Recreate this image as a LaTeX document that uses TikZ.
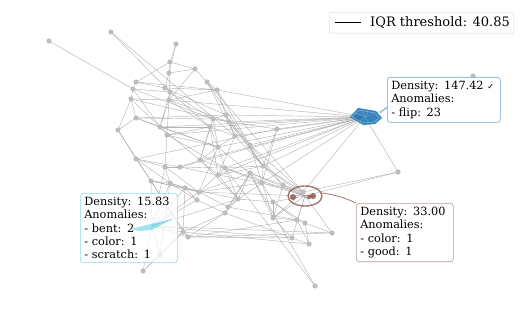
\documentclass[tikz,border=0pt]{standalone}
\usepackage{fontspec}
\setmainfont{DejaVu Serif}
\newfontfamily\symfont{DejaVu Sans}
\definecolor{tabblue}{HTML}{1F77B4}
\definecolor{lightblue}{HTML}{6FA8D6}
\definecolor{tabbrown}{HTML}{8C564B}
\definecolor{lightbrown}{HTML}{B59A93}
\definecolor{tabcyan}{HTML}{17BECF}
\definecolor{lightcyan}{HTML}{8EDBE4}
\definecolor{nodegray}{HTML}{BDBDBD}
\definecolor{edgegray}{HTML}{9E9E9E}
\begin{document}
\begin{tikzpicture}[x=1pt,y=-1pt,
  edge/.style={draw=edgegray,line width=0.45pt,opacity=0.75},
  gnode/.style={circle,fill=nodegray,inner sep=0pt,minimum size=5.2pt},
  lbl/.style={draw,rounded corners=3pt,fill=white,fill opacity=0.72,text opacity=1,
    inner sep=4pt,align=left,anchor=north west,font=\fontsize{11.3}{13.2}\selectfont,line width=0.6pt}]
\useasboundingbox (0,0) rectangle (524,318);
% coordinates of the graph
\foreach \i/\x/\y in {1/49/41,2/111/32,3/176/44,4/170/62,5/195/69,6/169/73,7/136/82,8/207/82,
  9/133/89,10/165/88,11/170/92,12/217/90,13/131/99,14/169/100,15/136/118,16/118/130,
  17/160/127,18/167/135,19/213/119,20/226/115,21/210/127,22/229/122,23/235/136,24/218/147,
  25/277/129,26/136/159,27/165/167,28/180/167,29/200/160,30/225/168,31/151/181,32/170/183,
  33/199/192,34/218/175,35/238/199,36/262/183,37/263/166,38/273/202,39/197/200,40/185/188,
  41/250/173,42/225/213,43/228/207,44/183/232,45/188/237,46/160/255,47/303/192,48/273/218,
  49/297/220,50/305/223,51/332/233,52/292/238,53/309/244,54/315/286,55/283/185,56/250/145,
  57/398/172,58/473/76,59/143/271}
  \coordinate (c\i) at (\x,\y);
\coordinate (cB) at (365,117);
\coordinate (cBr) at (305,196);
\coordinate (cT) at (152,226);
% edges
\foreach \a/\b in {1/9,2/11,2/23,3/4,4/6,4/5,4/7,5/6,5/8,5/14,6/10,6/11,7/9,7/10,7/12,8/12,8/37,
  9/13,9/11,9/19,10/11,10/12,11/14,11/19,11/21,12/14,13/14,13/16,13/15,14/18,14/17,14/22,
  15/17,15/20,15/19,16/26,17/18,17/21,17/24,18/21,18/30,19/20,19/22,20/22,20/23,21/23,21/24,
  22/23,22/25,23/24,23/34,24/29,24/30,25/37,26/28,26/27,26/31,26/25,27/28,27/32,28/29,28/30,
  29/30,29/34,30/34,30/36,30/37,31/32,31/33,31/35,32/33,32/40,33/34,33/41,34/35,34/36,35/36,
  35/41,35/42,36/37,36/38,36/47,37/47,38/48,38/49,39/40,39/42,40/33,41/42,41/55,42/44,43/41,
  43/35,43/33,44/45,44/31,45/52,45/51,46/44,46/32,47/55,47/48,48/49,48/52,49/50,49/53,50/51,
  50/53,52/53,54/30,55/56,56/36,57/47,16/15,3/6,12/20,24/33,18/27,19/29,21/34,13/22,10/20,
  8/23,17/29,8/47,20/37,16/31,26/32,27/33,28/34,29/35,31/45,32/39,33/36,34/37,35/38,36/48,
  37/55,40/44,42/45,46/59,59/44,24/36,18/24,15/24,9/17,13/17,11/17,22/37,23/37,25/36,14/21,
  19/24,21/29,30/35,33/39,41/48,42/52,43/49,44/53,45/49,54/41,56/47,55/48,38/50,12/56,22/56}
  \draw[edge] (c\a) -- (c\b);
\foreach \b in {25,22,20,23,24,29,37,36,30,34,21,57,58,47,12,18,28,17,14,56}
  \draw[edge] (cB) -- (c\b);
\foreach \b in {36,37,38,41,48,49,57,51,33,30,55,52}
  \draw[edge] (cBr) -- (c\b);
\foreach \b in {44,45,39,31,27,32,51,52,46,33,35,40,59}
  \draw[edge] (cT) -- (c\b);
% grey nodes
\foreach \i in {1,...,59}
  \node[gnode] (g\i) at (c\i) {};
% blue cluster
\fill[tabblue,opacity=0.9] (350,117) -- (358,108) -- (376,111) -- (382,118) -- (375,124) -- (363,125) -- cycle;
\draw[lightblue,line width=0.8pt] (352,117) -- (359,110) -- (375,113) -- (379,118) -- (374,122) -- (363,123) -- cycle;
\foreach \p in {(356,113),(362,111),(368,112),(374,114),(360,121),(368,122)}
  \draw[white,opacity=0.35,line width=0.3pt] (365,117) -- \p;
% brown cluster
\draw[tabbrown,opacity=0.8,line width=1.4pt] (cBr) ellipse (17 and 10);
\node[circle,fill=tabbrown,opacity=0.85,inner sep=0pt,minimum size=6pt] (br1) at (293,197) {};
\node[circle,fill=tabbrown,opacity=0.85,inner sep=0pt,minimum size=6pt] (br2) at (313,196) {};
\node[circle,fill=tabbrown,opacity=0.85,inner sep=0pt,minimum size=4.5pt] (br3) at (309,197) {};
\draw[tabbrown,opacity=0.8,line width=0.6pt] (br3) -- (305,195) (br3) -- (305,198) (br2) -- (br3);
% labels
\node[lbl,draw=lightblue,text width=105pt] (lb) at (387,77)
  {Density: 147.42 {\symfont\fontsize{8}{13}\selectfont ✓}\\Anomalies:\\- flip: 23};
\node[lbl,draw=lightcyan,text width=89pt] (lt) at (80,193)
  {Density: 15.83\\Anomalies:\\- bent: 2\\- color: 1\\- scratch: 1};
\node[lbl,draw=lightbrown,text width=89pt] (lr) at (356,203)
  {Density: 33.00\\Anomalies:\\- color: 1\\- good: 1};
% cyan cluster (seen through its label)
\fill[tabcyan,opacity=0.4] (130,229) -- (172,219) -- (152,230) -- (140,231) -- cycle;
\draw[tabcyan,opacity=0.4,line width=0.5pt] (cT) -- (172,219);
\draw[lightblue,line width=0.8pt] (380,113) -- (lb.west |- 0,107);
\draw[tabbrown,opacity=0.8,line width=0.8pt] (322,193) to[bend left=8] (lr.north west);
% legend
\node[draw=black!18,rounded corners=2pt,fill=white,anchor=north west,minimum width=184pt,
  minimum height=21pt,inner sep=0pt] (leg) at (329,12) {};
\coordinate (la) at (335,22.5);
\coordinate (lz) at (361,22.5);
\draw[black,line width=0.9pt] (la) -- (lz);
\node[anchor=west,inner sep=0pt,font=\fontsize{13}{15}\selectfont] (legt) at (370,22.5) {IQR threshold: 40.85};
\end{tikzpicture}
\end{document}
